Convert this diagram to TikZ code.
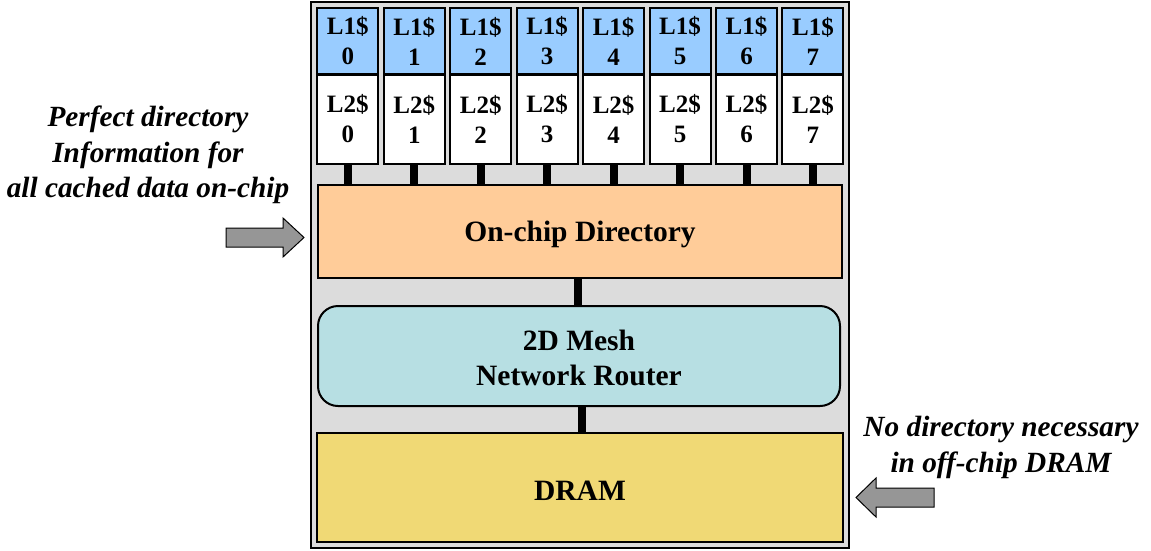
\documentclass[tikz,border=0pt]{standalone}
\usepackage{fontspec}
\setmainfont{Liberation Serif}
\definecolor{chipgray}{HTML}{DCDCDC}
\definecolor{lonecol}{HTML}{99CCFF}
\definecolor{dircol}{HTML}{FFCC99}
\definecolor{routercol}{HTML}{B7DFE3}
\definecolor{dramcol}{HTML}{F0D975}
\definecolor{arrowgray}{HTML}{969696}
\tikzset{
  outerbox/.style={draw=black, line width=2.5pt, fill=chipgray, inner sep=0pt},
  blockbox/.style={draw=black, line width=2pt, inner sep=0pt},
  blocktext/.style={align=center, inner sep=0pt,
    font=\bfseries\fontsize{29.5}{35}\selectfont},
  cachebox/.style={draw=black, line width=2pt, inner sep=0pt, align=center,
    minimum width=61pt, font=\bfseries\fontsize{25}{30}\selectfont},
  link/.style={line width=8pt, black},
  sidetext/.style={align=center, inner sep=0pt,
    font=\bfseries\itshape\fontsize{29.3}{35.5}\selectfont},
  bigarrow/.style={draw=black, line width=1pt, fill=arrowgray, line join=miter}
}
\begin{document}
\begin{tikzpicture}[x=1pt,y=-1pt]
\useasboundingbox (0,0) rectangle (1151,550);
\node[outerbox, minimum width=538pt, minimum height=546pt] (chip) at (580,275) {};
\foreach \i in {0,...,7}{
  \node[cachebox, fill=lonecol, minimum height=66pt] (lone\i) at ({347.8+66.45*\i},41) {L1\$\\\i};
  \node[cachebox, fill=white, minimum height=89pt] (ltwo\i) at ({347.8+66.45*\i},119) {L2\$\\\i};
}
\node[blockbox, fill=dircol, minimum width=524pt, minimum height=93pt] (dir) at (580,231.5) {};
\node[blockbox, fill=routercol, rounded corners=20pt, minimum width=522pt, minimum height=100pt] (router) at (579,356) {};
\node[blockbox, fill=dramcol, minimum width=526pt, minimum height=109pt] (dram) at (580,487.5) {};
\node[blocktext, yshift=-2.5pt] (dirtext) at (dir.center) {On-chip Directory};
\node[blocktext, yshift=-2pt] (routertext) at (router.center) {2D Mesh\\Network Router};
\node[blocktext, yshift=-3pt] (dramtext) at (dram.center) {DRAM};
\foreach \i in {0,...,7}{
  \draw[link] (ltwo\i.south) -- (ltwo\i.south |- dir.north);
}
\draw[link] ([xshift=-2pt]dir.south) -- ([xshift=-2pt]dir.south |- router.north);
\draw[link] ([xshift=2pt]dram.north) -- ([xshift=2pt]dram.north |- router.south);
\node[sidetext] (lefttext) at (148,155) {Perfect directory\\Information for\\all cached data on-chip};
\node[sidetext] (righttext) at (1001,447.5) {No directory necessary\\in off-chip DRAM};
\draw[bigarrow] (226,228) -- (283,228) -- (283,218) -- (304,237.5) -- (283,257) -- (283,247) -- (226,247) -- cycle;
\draw[bigarrow] (934,488) -- (876,488) -- (876,478) -- (856,497.5) -- (876,517) -- (876,507) -- (934,507) -- cycle;
\end{tikzpicture}
\end{document}
